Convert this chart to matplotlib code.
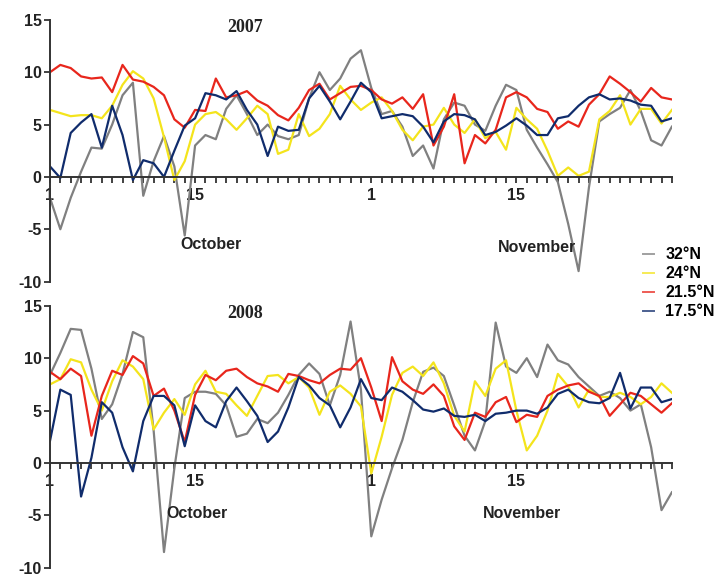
import numpy as np
import matplotlib
matplotlib.use('Agg')
import matplotlib.pyplot as plt

plt.rcParams['font.family'] = ['Liberation Sans', 'DejaVu Sans']
plt.rcParams['axes.unicode_minus'] = False

stations = ['32°N', '24°N', '21.5°N', '17.5°N']
colors = ['#808080', '#f4e41c', '#e8261c', '#102c6c']

# daily values, 1 October .. 30 November
gray_2007 = [-2.0, -5.0, -2.0, 0.5, 2.8, 2.7, 5.0, 7.8, 9.0, -1.8, 1.5, 3.9, 1.0, -5.6, 3.0, 4.0,
             3.6, 6.5, 7.8, 6.0, 4.0, 5.0, 3.9, 3.6, 4.0, 7.5, 10.0, 8.3, 9.4, 11.3, 12.1,
             8.5, 6.0, 6.3, 4.8, 2.0, 3.0, 0.8, 5.5, 7.1, 6.8, 5.0, 4.4, 6.8, 8.8, 8.3,
             4.5, 2.8, 1.2, -0.5, -4.5, -9.0, -1.0, 5.3, 6.0, 6.6, 8.3, 6.3, 3.5, 3.0, 4.8]
yellow_2007 = [6.4, 6.1, 5.8, 5.9, 5.9, 5.6, 6.8, 8.8, 10.1, 9.4, 7.5, 3.8, -0.3, 1.5, 5.0, 6.0,
               6.2, 5.5, 4.5, 5.6, 6.8, 6.0, 2.2, 2.6, 6.0, 3.9, 4.6, 6.0, 8.7, 7.4, 6.4,
               7.1, 7.6, 6.3, 4.5, 3.5, 4.8, 5.0, 6.6, 5.0, 4.2, 5.5, 3.7, 4.3, 2.6, 6.6,
               5.5, 4.6, 2.5, 0.1, 0.9, 0.1, 0.5, 5.5, 6.3, 7.8, 5.0, 6.5, 6.5, 5.1, 6.4]
red_2007 = [10.0, 10.7, 10.4, 9.6, 9.4, 9.5, 8.1, 10.7, 9.3, 9.1, 8.6, 7.8, 5.5, 4.7, 6.4, 6.3,
            9.4, 7.6, 7.8, 8.2, 7.3, 6.8, 5.9, 5.4, 6.6, 8.3, 8.9, 7.4, 8.0, 8.6, 8.7,
            8.3, 7.4, 7.0, 7.6, 6.5, 7.9, 3.0, 4.8, 7.9, 1.3, 4.0, 3.2, 4.5, 7.6, 8.1,
            7.6, 6.5, 6.2, 4.6, 5.3, 4.8, 6.9, 7.9, 9.6, 8.9, 8.1, 7.2, 8.5, 7.6, 7.4]
blue_2007 = [1.0, -0.1, 4.2, 5.2, 6.0, 2.8, 6.8, 4.0, -0.3, 1.6, 1.3, 0.0, 2.5, 4.9, 5.6, 8.0,
             7.8, 7.4, 8.2, 6.4, 5.0, 2.0, 4.8, 4.4, 4.5, 7.5, 8.7, 7.2, 5.5, 7.2, 9.0,
             8.1, 5.6, 5.8, 6.0, 5.8, 4.8, 3.3, 5.3, 6.0, 5.9, 5.5, 4.0, 4.3, 4.9, 5.6,
             4.9, 4.0, 4.0, 5.6, 5.8, 6.8, 7.6, 7.9, 7.4, 7.5, 7.3, 6.9, 6.8, 5.3, 5.6]

gray_2008 = [8.4, 10.5, 12.8, 12.7, 9.0, 4.2, 5.6, 8.5, 12.5, 12.0, 3.1, -8.5, -0.5, 6.2, 6.8, 6.8,
             6.6, 5.5, 2.5, 2.8, 4.2, 3.8, 4.8, 6.5, 8.4, 9.5, 8.5, 5.5, 8.4, 13.5, 7.0,
             -7.0, -3.5, -0.5, 2.2, 5.8, 8.7, 9.1, 8.3, 5.5, 2.6, 1.2, 4.0, 13.4, 9.2, 8.6,
             10.0, 8.2, 11.3, 9.8, 9.4, 8.2, 7.3, 6.4, 6.8, 6.2, 5.0, 5.6, 1.5, -4.5, -2.8]
yellow_2008 = [7.5, 8.0, 9.9, 9.6, 7.0, 5.0, 7.8, 9.8, 9.2, 8.0, 3.2, 4.8, 6.1, 4.6, 7.5, 8.8,
               6.8, 6.6, 5.5, 4.5, 6.4, 8.3, 8.4, 7.6, 8.2, 7.2, 4.6, 6.8, 7.4, 6.6, 5.4,
               -1.0, 2.5, 6.5, 8.6, 9.2, 8.3, 9.6, 7.6, 4.5, 3.0, 7.8, 6.4, 9.0, 9.8, 5.0,
               1.2, 2.6, 5.0, 8.5, 7.3, 5.3, 7.0, 6.3, 6.3, 6.7, 6.3, 5.6, 6.3, 7.6, 6.7]
red_2008 = [8.7, 8.0, 9.0, 8.3, 2.6, 6.4, 8.8, 8.4, 10.2, 9.5, 6.4, 7.1, 5.0, 2.0, 6.5, 8.4,
            7.9, 8.8, 9.0, 8.2, 7.6, 7.3, 6.8, 8.5, 8.3, 7.9, 7.6, 8.4, 9.0, 8.9, 10.0,
            7.2, 4.0, 10.1, 7.8, 7.0, 6.6, 7.5, 6.4, 3.5, 2.2, 4.8, 4.4, 5.8, 6.3, 3.9,
            4.6, 4.4, 6.4, 7.0, 7.4, 7.6, 6.8, 6.4, 4.5, 5.6, 6.7, 6.4, 5.6, 4.8, 5.7]
blue_2008 = [2.1, 7.0, 6.5, -3.2, 0.5, 5.8, 4.8, 1.5, -0.8, 4.0, 6.4, 6.4, 5.5, 1.6, 5.5, 4.0,
             3.4, 5.9, 7.2, 5.9, 4.5, 2.0, 3.0, 5.3, 8.2, 7.4, 6.2, 5.5, 3.4, 5.3, 8.0,
             6.2, 6.0, 7.2, 6.8, 6.0, 5.1, 4.9, 5.2, 4.5, 4.4, 4.6, 4.0, 4.7, 4.8, 5.0,
             5.0, 4.7, 5.3, 6.6, 7.0, 6.2, 5.8, 5.7, 6.2, 8.6, 5.2, 7.2, 7.2, 5.8, 6.1]

day_ticks = [0, 14, 31, 45]
day_labels = ['1', '15', '1', '15']
y_ticks = [-10, -5, 0, 5, 10, 15]


def draw_panel(ax, year, series, october_xy, november_xy):
    days = np.arange(len(series[0]))
    lines = []
    for values, color in zip(series, colors):
        line, = ax.plot(days, values, color=color, lw=1.6, solid_joinstyle='round')
        lines.append(line)

    ax.set_xlim(0, 60)
    ax.set_ylim(-10, 15)
    ax.spines['top'].set_visible(False)
    ax.spines['right'].set_visible(False)
    ax.spines['bottom'].set_position(('data', 0))
    for side in ('left', 'bottom'):
        ax.spines[side].set_color('#333333')
        ax.spines[side].set_linewidth(1.4)

    ax.set_yticks(y_ticks)
    ax.set_xticks(day_ticks)
    ax.set_xticklabels(day_labels)
    ax.set_xticks(np.arange(0, 61), minor=True)
    ax.tick_params(axis='y', length=4, width=1.3, color='#333333', pad=2,
                   labelsize=11.5, labelcolor='#222222')
    ax.tick_params(axis='x', which='both', length=4, width=1.3, color='#333333',
                   direction='out', pad=4, labelsize=11.5, labelcolor='#222222')
    for lab in ax.get_xticklabels() + ax.get_yticklabels():
        lab.set_fontweight('bold')

    ax.text(18.8, 14.3, year, ha='center', va='center', fontsize=13,
            fontweight='bold', family='Liberation Serif', color='#222222')
    ax.text(*october_xy, 'October', ha='center', va='center', fontsize=11.5,
            fontweight='bold', color='#222222')
    ax.text(*november_xy, 'November', ha='center', va='center', fontsize=11.5,
            fontweight='bold', color='#222222')
    return lines


fig = plt.figure(figsize=(7.14, 5.77), dpi=100)
ax_top = fig.add_axes([0.070, 0.512, 0.871, 0.4535])
ax_bot = fig.add_axes([0.070, 0.016, 0.871, 0.454])

lines = draw_panel(ax_top, '2007', [gray_2007, yellow_2007, red_2007, blue_2007],
                   (15.5, -6.5), (47.0, -6.7))
draw_panel(ax_bot, '2008', [gray_2008, yellow_2008, red_2008, blue_2008],
           (14.2, -4.8), (45.5, -4.8))

leg = fig.legend(lines, stations, loc='upper left', bbox_to_anchor=(0.9006, 0.5715),
                 frameon=False, borderpad=0, borderaxespad=0, handlelength=0.7,
                 handletextpad=0.7, labelspacing=0.25, prop={'size': 11.5, 'weight': 'bold'})
for handle in leg.legend_handles:
    handle.set_alpha(0.75)
    handle.set_linewidth(1.4)

fig.savefig('out.png', dpi=100)
